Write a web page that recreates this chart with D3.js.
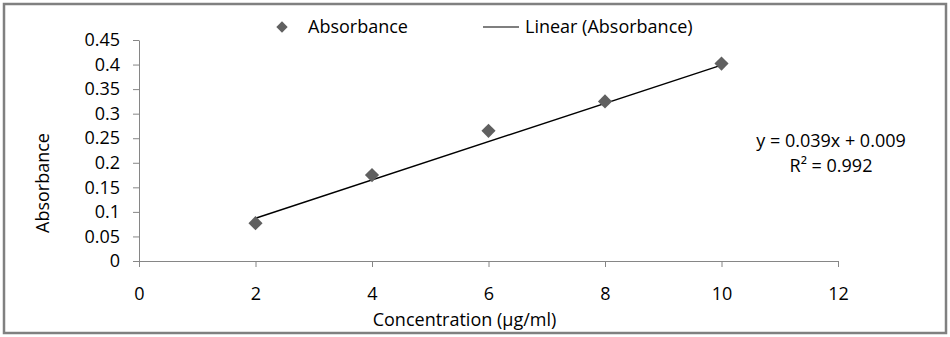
<!DOCTYPE html>
<html>
<head>
<meta charset="utf-8">
<script src="https://cdn.jsdelivr.net/npm/d3@7"></script>
<style>
  body { margin: 0; background: #fff; }
  text { font-family: "Open Sans", sans-serif; fill: #000; }
</style>
</head>
<body>
<div id="chart"></div>
<script>
// data
var concentration = [2, 4, 6, 8, 10];
var absorbance = [0.077, 0.175, 0.265, 0.325, 0.402];
var xTicks = [0, 2, 4, 6, 8, 10, 12];
var yTicks = [0, 0.05, 0.1, 0.15, 0.2, 0.25, 0.3, 0.35, 0.4, 0.45];
var slope = 0.039, intercept = 0.009;
var eqLines = ["y = 0.039x + 0.009", "R² = 0.992"];

var W = 950, H = 337;
var FS = "18px";
var margin = {top: 40, right: 112, bottom: 76, left: 139},
    width = W - margin.left - margin.right,
    height = H - margin.top - margin.bottom;

var svg0 = d3.select("#chart").append("svg")
    .attr("width", W).attr("height", H);

// outer frame
svg0.append("rect")
    .attr("x", 4).attr("y", 4)
    .attr("width", W - 8).attr("height", H - 8)
    .attr("fill", "none").attr("stroke", "#808080").attr("stroke-width", 2.5);

var svg = svg0.append("g")
    .attr("transform", "translate(" + margin.left + "," + margin.top + ")");

var x = d3.scaleLinear().domain([0, 12]).range([0, width]);
var y = d3.scaleLinear().domain([0, 0.45]).range([height, 0]);

// X axis
var gx = svg.append("g")
    .attr("transform", "translate(0," + height + ")")
    .call(d3.axisBottom(x).tickValues(xTicks).tickSize(6).tickSizeOuter(0).tickPadding(20).tickFormat(d3.format("d")));
gx.select(".domain").attr("stroke", "#868686");
gx.selectAll(".tick line").attr("stroke", "#868686");
gx.selectAll("text").style("font-size", FS).attr("font-family", null);

// Y axis
var gy = svg.append("g")
    .call(d3.axisLeft(y).tickValues(yTicks).tickSize(6).tickSizeOuter(0).tickPadding(13).tickFormat(function(d){ return d3.format("")(+d.toFixed(2)); }));
gy.select(".domain").attr("stroke", "#868686");
gy.selectAll(".tick line").attr("stroke", "#868686");
gy.selectAll("text").style("font-size", FS).attr("font-family", null);

// axis titles
svg.append("text")
    .attr("x", width / 2 - 24).attr("y", height + 65)
    .attr("text-anchor", "middle")
    .style("font-size", FS)
    .text("Concentration (µg/ml)");

svg.append("text")
    .attr("transform", "rotate(-90)")
    .attr("x", -143).attr("y", -90)
    .attr("text-anchor", "middle")
    .style("font-size", FS)
    .text("Absorbance");

// trendline
svg.append("line")
    .attr("x1", x(concentration[0])).attr("y1", y(slope * concentration[0] + intercept))
    .attr("x2", x(concentration[concentration.length - 1]))
    .attr("y2", y(slope * concentration[concentration.length - 1] + intercept))
    .attr("stroke", "#000").attr("stroke-width", 1.4);

// points
var diamond = d3.symbol().type(d3.symbolSquare).size(100);
svg.selectAll(".pt")
    .data(concentration)
    .enter().append("path")
    .attr("class", "pt")
    .attr("d", diamond)
    .attr("transform", function(d, i) { return "translate(" + x(d) + "," + y(absorbance[i]) + ") rotate(45)"; })
    .attr("fill", "#606060");

// equation
svg0.append("g").selectAll("text")
    .data(eqLines)
    .enter().append("text")
    .attr("x", 831).attr("y", function(d, i) { return 147 + i * 25; })
    .attr("text-anchor", "middle")
    .style("font-size", FS)
    .text(function(d) { return d; });

// legend
var lg = svg0.append("g");
lg.append("path")
    .attr("d", d3.symbol().type(d3.symbolSquare).size(64))
    .attr("transform", "translate(282,27) rotate(45)")
    .attr("fill", "#606060");
lg.append("text").attr("x", 308).attr("y", 33).style("font-size", FS).text("Absorbance");
lg.append("line").attr("x1", 483).attr("x2", 519).attr("y1", 27).attr("y2", 27)
    .attr("stroke", "#000").attr("stroke-width", 1.2);
lg.append("text").attr("x", 525).attr("y", 33).style("font-size", FS).text("Linear (Absorbance)");
</script>
</body>
</html>
